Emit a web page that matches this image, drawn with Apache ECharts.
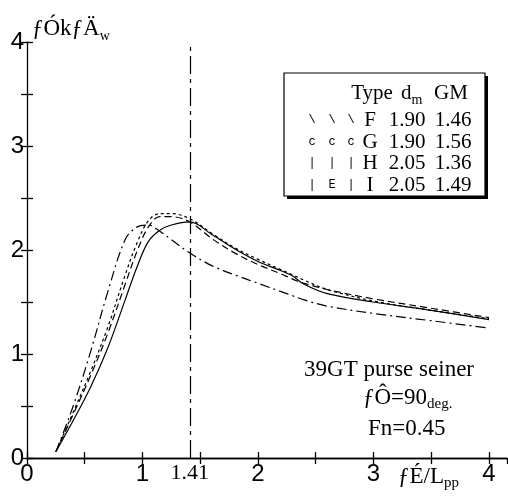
<!DOCTYPE html>
<html>
<head>
<meta charset="utf-8">
<script src="https://cdn.jsdelivr.net/npm/echarts@6/dist/echarts.min.js"></script>
<style>
  html, body { margin: 0; padding: 0; background: #fff; }
  #chart { width: 508px; height: 496px; }
</style>
</head>
<body>
<div id="chart"></div>
<script>
// Wave-length ratio sampled along the horizontal axis
const lambdaRatio = [0.25, 0.4, 0.55, 0.7, 0.85, 0.95, 1.05, 1.15, 1.25, 1.41, 1.6, 1.8, 2.0, 2.2, 2.3, 2.4, 2.6, 3.0, 3.5, 4.0];

// Response per hull type
const typeF = [0.06, 0.42, 0.79, 1.20, 1.67, 1.98, 2.22, 2.32, 2.32, 2.27, 2.11, 1.97, 1.86, 1.77, 1.72, 1.68, 1.62, 1.53, 1.44, 1.35];
const typeG = [0.06, 0.44, 0.83, 1.26, 1.76, 2.06, 2.28, 2.35, 2.35, 2.30, 2.16, 2.02, 1.91, 1.81, 1.76, 1.71, 1.62, 1.51, 1.42, 1.34];
const typeH = [0.06, 0.36, 0.68, 1.06, 1.52, 1.83, 2.08, 2.19, 2.24, 2.27, 2.15, 2.01, 1.89, 1.80, 1.75, 1.67, 1.58, 1.50, 1.42, 1.33];
const typeI = [0.06, 0.50, 1.02, 1.60, 2.10, 2.22, 2.24, 2.18, 2.10, 1.97, 1.85, 1.76, 1.68, 1.60, 1.56, 1.52, 1.46, 1.39, 1.32, 1.25];

// Legend table
const legendHeader = ['Type', 'd', 'GM'];
const legendTypes = ['F', 'G', 'H', 'I'];
const legendDm = ['1.90', '1.90', '2.05', '2.05'];
const legendGM = ['1.46', '1.56', '1.36', '1.49'];
const legendMarks = [['\\', '\\', '\\'], ['c', 'c', 'c'], ['|', '|', '|'], ['|', 'E', '|']];

// Axis ranges and the marked wave-length ratio
const xMax = 4.156;
const yMax = 4;
const tickStep = 0.5;
const peakRatio = 1.41;

const serif = '"Liberation Serif", "Times New Roman", serif';
const sans = '"Liberation Sans", Arial, sans-serif';
const black = '#000';

function pairs(ys) {
  return lambdaRatio.map((x, i) => [x, ys[i]]);
}

const intLabel = v => (Math.abs(v - Math.round(v)) < 1e-9 ? String(Math.round(v)) : '');

const axisLine = { show: true, lineStyle: { color: black, width: 1.3 } };
const axisTick = { show: true, inside: true, length: 6, lineStyle: { color: black, width: 1.3 } };

function curve(name, ys, dash) {
  return {
    name: name,
    type: 'line',
    data: pairs(ys),
    smooth: 0.35,
    showSymbol: false,
    symbol: 'none',
    silent: true,
    lineStyle: { color: black, width: 1.2, type: dash }
  };
}

const series = [
  curve('F', typeF, [7, 4]),
  curve('G', typeG, [3, 3]),
  curve('H', typeH, 'solid'),
  curve('I', typeI, [10, 4, 2, 4])
];

series[2].markLine = {
  silent: true,
  symbol: 'none',
  animation: false,
  lineStyle: { color: black, width: 1.2, type: [18, 5, 4, 5] },
  label: {
    show: true,
    position: 'start',
    formatter: String(peakRatio),
    fontFamily: serif,
    fontSize: 22,
    color: black,
    distance: 4
  },
  data: [{ xAxis: peakRatio }]
};

// Legend box and annotation text
const graphic = [];
const boxX = 284, boxY = 73, boxW = 201, boxH = 123;
graphic.push({ type: 'rect', shape: { x: boxX + 3, y: boxY + 3, width: boxW, height: boxH }, style: { fill: black }, z: 10 });
graphic.push({ type: 'rect', shape: { x: boxX, y: boxY, width: boxW, height: boxH }, style: { fill: '#fff', stroke: black, lineWidth: 1.2 }, z: 11 });

function subRich(big, small) {
  return {
    a: { fontFamily: serif, fontSize: big, lineHeight: 28, verticalAlign: 'middle', fill: black },
    s: { fontFamily: serif, fontSize: small, lineHeight: small, verticalAlign: 'bottom', fill: black }
  };
}

function txt(x, y, text, align, opts) {
  const style = Object.assign({
    text: text,
    x: 0, y: 0,
    align: align,
    verticalAlign: 'middle',
    fontFamily: serif,
    fontSize: 23,
    fill: black
  }, opts || {});
  return { type: 'text', x: x, y: y, style: style, z: 12 };
}

const headerY = 93;
const rowY = [120, 142, 163, 185];
const markX = [312, 332, 351];

graphic.push(txt(372, headerY, legendHeader[0], 'center', { fontSize: 21 }));
graphic.push(txt(401, headerY, '{a|' + legendHeader[1] + '}{s|m}', 'left', { rich: subRich(21, 14) }));
graphic.push(txt(451, headerY, legendHeader[2], 'center', { fontSize: 21 }));

legendTypes.forEach((t, i) => {
  legendMarks[i].forEach((m, j) => {
    graphic.push(txt(markX[j], rowY[i], m, 'center', { fontFamily: '"Liberation Mono", monospace', fontSize: 12 }));
  });
  graphic.push(txt(370, rowY[i], t, 'center', { fontSize: 21 }));
  graphic.push(txt(407, rowY[i], legendDm[i], 'center', { fontSize: 21 }));
  graphic.push(txt(453, rowY[i], legendGM[i], 'center', { fontSize: 21 }));
});

graphic.push(txt(474, 370, '39GT purse seiner', 'right'));
graphic.push(txt(363, 398, '{a|ƒÔ=90}{s|deg.}', 'left', { rich: subRich(23, 15) }));
graphic.push(txt(368, 429, 'Fn=0.45', 'left'));

// Axis titles
graphic.push(txt(32, 29, '{a|ƒÓkƒÄ}{s|w}', 'left', { rich: subRich(23, 14) }));
graphic.push(txt(398, 477, '{a|ƒÉ/L}{s|pp}', 'left', { rich: subRich(23, 15) }));

const chart = echarts.init(document.getElementById('chart'), null, { renderer: 'canvas' });
chart.setOption({
  animation: false,
  backgroundColor: '#fff',
  grid: { left: 27, right: 1, top: 42, bottom: 38 },
  xAxis: [
    {
      type: 'value', position: 'bottom', min: 0, max: xMax, interval: tickStep,
      axisLine: axisLine, axisTick: axisTick, splitLine: { show: false },
      axisLabel: { formatter: intLabel, fontFamily: sans, fontSize: 24, color: black, margin: 4, showMaxLabel: false }
    },
    {
      type: 'value', position: 'top', min: 0, max: xMax, interval: tickStep,
      axisLine: axisLine, axisTick: axisTick, splitLine: { show: false }, axisLabel: { show: false }
    }
  ],
  yAxis: [
    {
      type: 'value', position: 'left', min: 0, max: yMax, interval: tickStep,
      axisLine: axisLine, axisTick: axisTick, splitLine: { show: false },
      axisLabel: { formatter: intLabel, fontFamily: sans, fontSize: 24, color: black, margin: 3 }
    },
    {
      type: 'value', position: 'right', min: 0, max: yMax, interval: tickStep,
      axisLine: { show: false }, axisTick: axisTick, splitLine: { show: false }, axisLabel: { show: false }
    }
  ],
  series: series,
  graphic: graphic
});
</script>
</body>
</html>
